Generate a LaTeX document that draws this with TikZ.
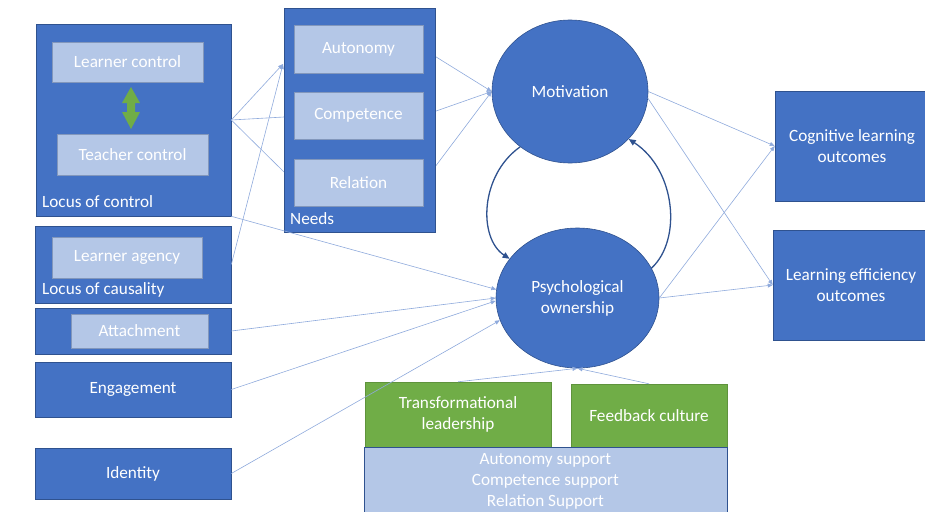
\documentclass[tikz,border=0pt]{standalone}
\usepackage{fontspec}
\setmainfont{Carlito}
\usetikzlibrary{arrows.meta,backgrounds,shapes.geometric}
\definecolor{boxblue}{HTML}{4472C4}
\definecolor{edgeblue}{HTML}{2F528F}
\definecolor{paleblue}{HTML}{B4C7E7}
\definecolor{leafgreen}{HTML}{70AD47}
\definecolor{linkblue}{HTML}{8FAADC}
\tikzset{
  txt/.style={text=white, font=\fontsize{17.2}{21}\selectfont, align=center},
  outer/.style={txt, draw=edgeblue, line width=0.6pt, fill=boxblue, inner sep=0pt},
  innerbox/.style={txt, draw=edgeblue!60, line width=0.6pt, fill=paleblue, inner sep=0pt},
  greenbox/.style={txt, draw=leafgreen!85!black, line width=0.4pt, fill=leafgreen, inner sep=0pt},
  bubble/.style={txt, ellipse, draw=edgeblue, line width=0.6pt, fill=boxblue, inner sep=0pt},
  lbl/.style={txt, anchor=west, inner sep=0pt},
  plainlink/.style={draw=linkblue, line width=0.6pt},
  link/.style={plainlink, -{Triangle[length=5pt,width=4pt]}},
  curve/.style={draw=edgeblue, line width=1.3pt, -{Triangle[length=7pt,width=6pt]}}
}
\begin{document}
\begin{tikzpicture}[x=1pt,y=-1pt]
\useasboundingbox (0,0) rectangle (925,511);

% left column: loci and antecedents
\node[outer, minimum width=195, minimum height=192] (loc) at (133.5,120) {};
\node[innerbox, minimum width=151, minimum height=40] (lc) at (127.5,62) {Learner control};
\node[innerbox, minimum width=151, minimum height=41] (tc) at (132.5,154.5) {Teacher control};
\node[lbl] (loclbl) at (42,202) {Locus of control};
\fill[leafgreen] (131,87) -- (140,103) -- (135,103) -- (135,112) -- (140,112) -- (131,129)
  -- (122,112) -- (127,112) -- (127,103) -- (122,103) -- cycle;

\node[outer, minimum width=196, minimum height=77] (caus) at (133,264.5) {};
\node[innerbox, minimum width=150, minimum height=41] (agency) at (127,257.5) {Learner agency};
\node[lbl] (causlbl) at (42,290) {Locus of causality};

\node[outer, minimum width=196, minimum height=46] (attach) at (133,331) {};
\node[innerbox, minimum width=137, minimum height=34] (attachin) at (139.5,331) {Attachment};

\node[outer, minimum width=196, minimum height=55] (eng) at (133,389.5) {Engagement};
\node[outer, minimum width=196, minimum height=51] (ident) at (133,473.5) {Identity};

% needs
\node[outer, minimum width=151, minimum height=224] (needs) at (359.5,120) {};
\node[innerbox, minimum width=129, minimum height=48] (auto) at (358.5,49) {Autonomy};
\node[innerbox, minimum width=129, minimum height=47] (comp) at (358.5,115.5) {Competence};
\node[innerbox, minimum width=129, minimum height=47] (rel) at (358.5,182.5) {Relation};
\node[lbl] (needslbl) at (290,219) {Needs};

% mediators
\node[bubble, minimum width=156, minimum height=143] (mot) at (570,91.5) {Motivation};
\node[bubble, minimum width=163, minimum height=140] (psy) at (577.5,298) {Psychological\\ownership};

% outcomes
\node[outer, minimum width=154, minimum height=110] (cog) at (852,146) {Cognitive learning\\outcomes};
\node[outer, minimum width=156, minimum height=110] (eff) at (851,285) {Learning efficiency\\outcomes};

% context
\node[greenbox, minimum width=186, minimum height=65] (trans) at (458,414.5) {Transformational\\leadership};
\node[greenbox, minimum width=156, minimum height=63] (feed) at (649,415.5) {Feedback culture};
\node[innerbox, draw=edgeblue, minimum width=363, minimum height=68] (supp) at (545.5,481)
  {Autonomy support\\Competence support\\Relation Support};

% connectors
\coordinate (needsA) at (283,64);
\coordinate (needsB) at (284,117);
\coordinate (needsC) at (284,172);
\draw[link] (loc.east) -- (needsA);
\draw[plainlink] (loc.east) -- (needsB);
\draw[plainlink] (loc.east) -- (needsC);
\draw[link] (caus.east) -- (needsA);

\begin{pgfonlayer}{background}
\draw[link] (auto.east) -- (mot.west);
\draw[link] (comp.east) -- (mot.west);
\draw[link] (rel.east) -- (mot.west);
\end{pgfonlayer}

\draw[link] (loc.south east) -- (psy.174);
\draw[link] (attach.east) -- (psy.180);
\draw[link] (eng.east) -- (psy.182);
\draw[link] (ident.east) -- (psy.196);
\draw[link] (trans.north) -- (psy.south);
\draw[link] (feed.north) -- (psy.south);

\draw[link] (mot.east) -- (cog.west);
\draw[link] (mot.355) -- (eff.west);
\draw[link] (psy.east) -- (cog.west);
\draw[link] (psy.east) -- (eff.west);

\draw[curve] (mot.228) .. controls (480,175) and (478,238) .. (psy.150);
\draw[curve] (psy.22) .. controls (682,240) and (676,170) .. (mot.321);
\end{tikzpicture}
\end{document}
